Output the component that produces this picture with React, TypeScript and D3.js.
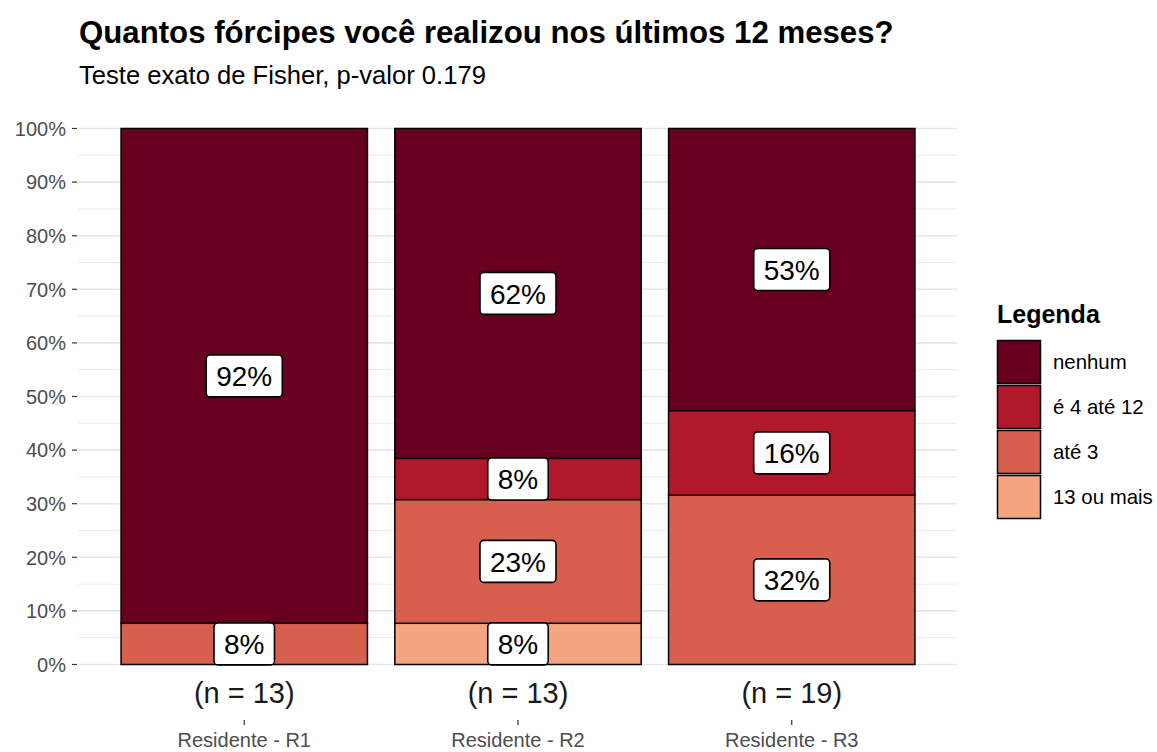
import React, { useEffect, useRef } from "react";
import * as d3 from "d3";

const groups = ["Residente - R1", "Residente - R2", "Residente - R3"];
const groupN = [13, 13, 19];
// stack order: bottom -> top
const categories = ["13 ou mais", "até 3", "é 4 até 12", "nenhum"];
const colors = ["#F4A582", "#D6604D", "#B2182B", "#67001F"];
const count13ouMais = [0, 1, 0];
const countAte3 = [1, 3, 6];
const count4a12 = [0, 1, 3];
const countNenhum = [12, 8, 10];
const yTicks = [0, 0.1, 0.2, 0.3, 0.4, 0.5, 0.6, 0.7, 0.8, 0.9, 1.0];
const yMinor = [0.05, 0.15, 0.25, 0.35, 0.45, 0.55, 0.65, 0.75, 0.85, 0.95];

const W = 1157;
const H = 752;
const FONT = "'Liberation Sans', Arial, sans-serif";

export default function App() {
  const ref = useRef<SVGSVGElement | null>(null);

  useEffect(() => {
    const svg = d3.select(ref.current);
    svg.selectAll("*").remove();

    const panelL = 80, panelR = 956;
    const y0px = 664.5, y1px = 128.5;
    const x = d3.scaleBand<string>().domain(groups).range([panelL, panelR]).paddingInner(0.1).paddingOuter(0.15);
    const y = d3.scaleLinear().domain([0, 1]).range([y0px, y1px]);

    const countsByCat = [count13ouMais, countAte3, count4a12, countNenhum];
    const rows = groups.map((g, i) => {
      const r: any = { group: g };
      categories.forEach((c, k) => (r[c] = countsByCat[k][i] / groupN[i]));
      return r;
    });
    const stack = d3.stack<any>().keys(categories);
    const series = stack(rows);

    // gridlines
    const grid = svg.append("g");
    yMinor.forEach((v) =>
      grid.append("line").attr("x1", panelL - 2).attr("x2", panelR + 1).attr("y1", y(v)).attr("y2", y(v))
        .attr("stroke", "#EBEBEB").attr("stroke-width", 1)
    );
    yTicks.forEach((v) =>
      grid.append("line").attr("x1", panelL - 2).attr("x2", panelR + 1).attr("y1", y(v)).attr("y2", y(v))
        .attr("stroke", "#E6E6E6").attr("stroke-width", 1.6)
    );

    // y axis labels + ticks
    const yax = svg.append("g");
    yTicks.forEach((v) => {
      yax.append("text").attr("x", 66).attr("y", y(v)).attr("dy", "0.36em").attr("text-anchor", "end")
        .attr("font-family", FONT).attr("font-size", 20).attr("fill", "#4D4D4D").text(d3.format(".0%")(v));
      yax.append("line").attr("x1", 72).attr("x2", 77).attr("y1", y(v)).attr("y2", y(v))
        .attr("stroke", "#333").attr("stroke-width", 1.2);
    });

    // bars
    const bars = svg.append("g");
    series.forEach((s, k) => {
      s.forEach((d: any) => {
        if (d[1] - d[0] <= 0) return;
        bars.append("rect")
          .attr("x", x(d.data.group)!)
          .attr("width", x.bandwidth())
          .attr("y", y(d[1]))
          .attr("height", y(d[0]) - y(d[1]))
          .attr("fill", colors[k])
          .attr("stroke", "#000")
          .attr("stroke-width", 1.5);
      });
    });

    // labels
    const labs = svg.append("g");
    series.forEach((s) => {
      s.forEach((d: any) => {
        const v = d[1] - d[0];
        if (v <= 0) return;
        const cx = x(d.data.group)! + x.bandwidth() / 2;
        const cy = y((d[0] + d[1]) / 2);
        const g = labs.append("g");
        const rect = g.append("rect");
        const t = g.append("text").attr("x", cx).attr("y", cy).attr("dy", "0.36em").attr("text-anchor", "middle")
          .attr("font-family", FONT).attr("font-size", 28).attr("fill", "#000").text(Math.round(v * 100) + "%");
        const tw = (t.node() as SVGTextElement).getComputedTextLength();
        const bw = tw + 20, bh = 42;
        rect.attr("x", cx - bw / 2).attr("y", cy - bh / 2).attr("width", bw).attr("height", bh)
          .attr("rx", 4).attr("ry", 4).attr("fill", "#fff").attr("stroke", "#000").attr("stroke-width", 1.6);
      });
    });

    // x axis: n labels, ticks, group labels
    const xax = svg.append("g");
    groups.forEach((g, i) => {
      const cx = x(g)! + x.bandwidth() / 2;
      xax.append("text").attr("x", cx).attr("y", 703).attr("text-anchor", "middle").attr("font-family", FONT)
        .attr("font-size", 29).attr("fill", "#1A1A1A").text(`(n = ${groupN[i]})`);
      xax.append("line").attr("x1", cx).attr("x2", cx).attr("y1", 720).attr("y2", 725).attr("stroke", "#333").attr("stroke-width", 1.2);
      xax.append("text").attr("x", cx).attr("y", 747).attr("text-anchor", "middle").attr("font-family", FONT)
        .attr("font-size", 20).attr("fill", "#4D4D4D").text(g);
    });

    // title
    svg.append("text").attr("x", 79).attr("y", 43).attr("font-family", FONT).attr("font-size", 31.2)
      .attr("font-weight", "bold").attr("fill", "#000").text("Quantos fórcipes você realizou nos últimos 12 meses?");
    svg.append("text").attr("x", 79).attr("y", 84).attr("font-family", FONT).attr("font-size", 25.6)
      .attr("fill", "#000").text("Teste exato de Fisher, p-valor 0.179");

    // legend
    const leg = svg.append("g");
    leg.append("text").attr("x", 997).attr("y", 323).attr("font-family", FONT).attr("font-size", 25)
      .attr("font-weight", "bold").attr("fill", "#000").text("Legenda");
    const legOrder = [...categories].reverse();
    legOrder.forEach((c, i) => {
      const k = categories.indexOf(c);
      const top = 340 + i * 45;
      leg.append("rect").attr("x", 997.5).attr("y", top + 0.5).attr("width", 43).attr("height", 43)
        .attr("fill", colors[k]).attr("stroke", "#000").attr("stroke-width", 1.5);
      leg.append("text").attr("x", 1053).attr("y", top + 22).attr("dy", "0.36em").attr("font-family", FONT)
        .attr("font-size", 20.4).attr("fill", "#000").text(c);
    });
  }, []);

  return <svg ref={ref} width={W} height={H} style={{ position: "absolute", left: 0, top: 0, background: "#fff" }} />;
}
